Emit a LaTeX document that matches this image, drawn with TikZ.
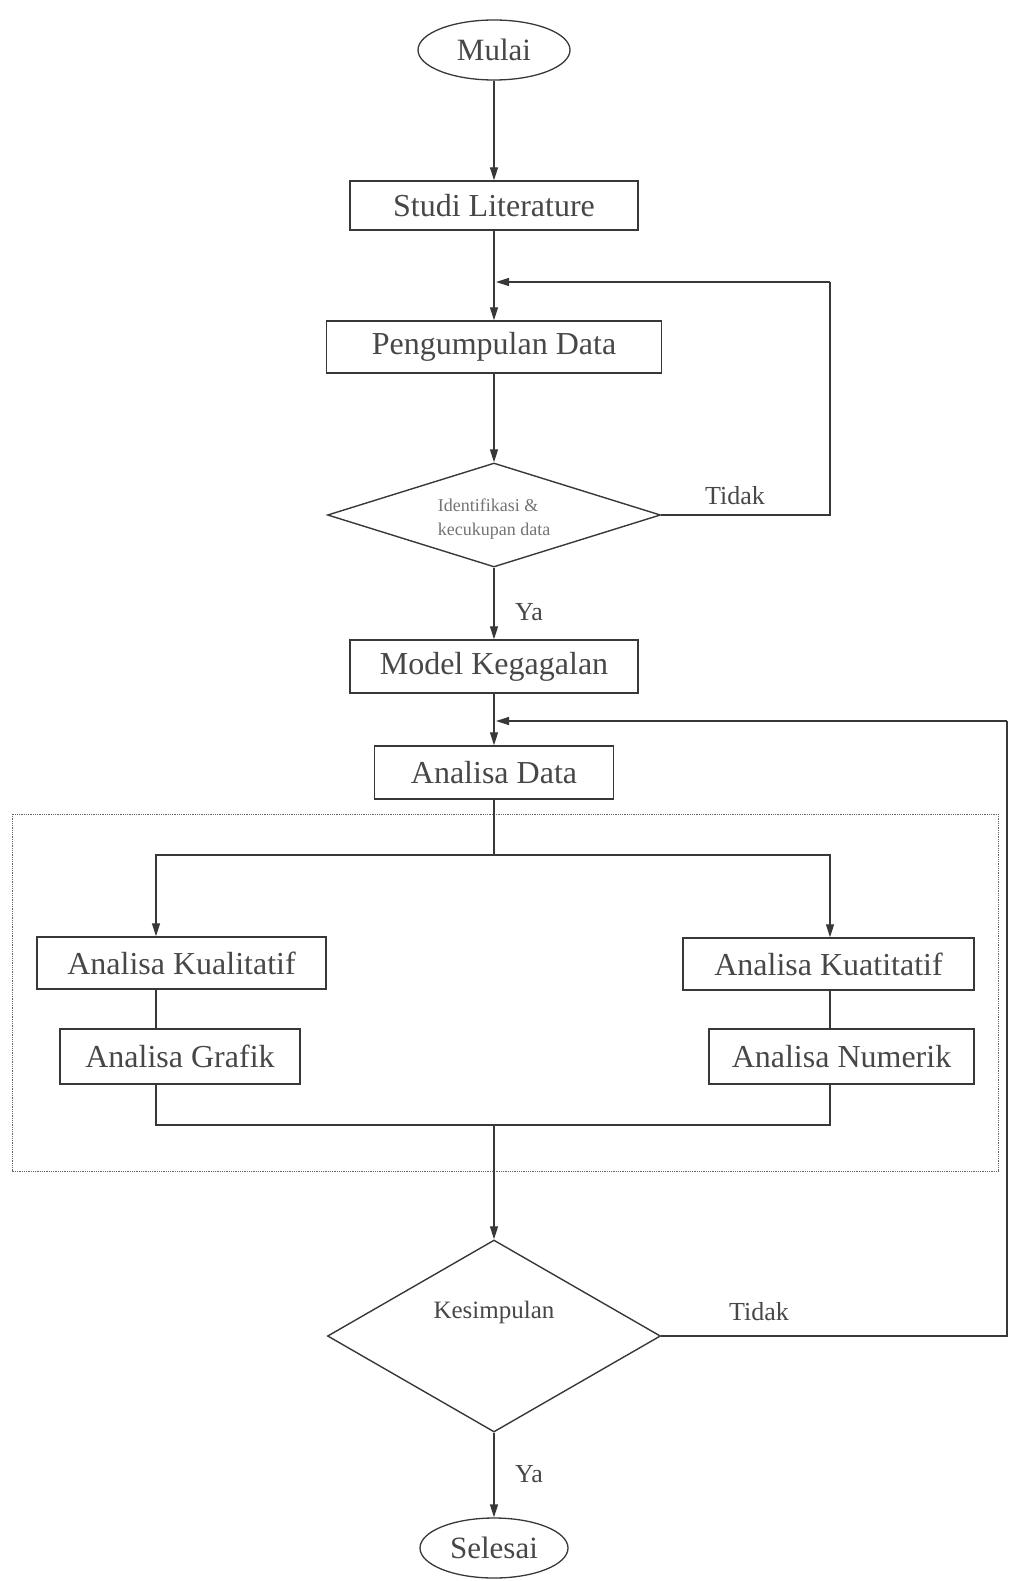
\documentclass[tikz,border=0pt]{standalone}
\usepackage{fontspec}
\setmainfont{Liberation Serif}
\usetikzlibrary{shapes.geometric,arrows.meta}
\begin{document}
\begin{tikzpicture}[x=1pt,y=-1pt,
  line width=1.3pt, color=black!78,
  proc/.style={draw=black!78, line width=1.4pt, rectangle, inner sep=0pt, text=black!72, font=\fontsize{32}{34}\selectfont},
  term/.style={draw=black!78, line width=1.3pt, ellipse, inner sep=0pt, text=black!72, font=\fontsize{31}{33}\selectfont},
  dec/.style={draw=black!78, line width=1.4pt, diamond, inner sep=0pt},
  lbl/.style={text=black!72, inner sep=0pt},
  arr/.style={-{Triangle[length=13pt,width=8pt]}}
]
\useasboundingbox (0,0) rectangle (1010,1581);

% nodes
\node[term, minimum width=152, minimum height=60] (mulai) at (494,50) {Mulai};
\node[proc, minimum width=288, minimum height=49] (studi) at (494,205.5) {Studi Literature};
\node[proc, minimum width=335, minimum height=52] (kumpul) at (494,347) {Pengumpulan Data};
\node[dec, minimum width=333, minimum height=104] (d1) at (494,515) {};
\node[lbl, font=\fontsize{18}{24}\selectfont, align=left, text=black!55] (d1t) at (494,519) {Identifikasi \&\\kecukupan data};
\node[lbl, font=\fontsize{26}{28}\selectfont] (tidak1) at (735,496) {Tidak};
\node[lbl, font=\fontsize{26}{28}\selectfont] (ya1) at (529,612) {Ya};
\node[proc, minimum width=288, minimum height=53] (model) at (494,666.5) {Model Kegagalan};
\node[proc, minimum width=239, minimum height=53] (adata) at (494,772.5) {Analisa Data};

\draw[black!60, line width=0.8pt, densely dotted] (12,814) rectangle (998,1171);

\node[proc, minimum width=289, minimum height=52] (kual) at (181.5,963) {Analisa Kualitatif};
\node[proc, minimum width=291, minimum height=52] (kuan) at (828.5,964) {Analisa Kuatitatif};
\node[proc, minimum width=240, minimum height=55] (grafik) at (180,1056.5) {Analisa Grafik};
\node[proc, minimum width=265, minimum height=55] (numerik) at (841.5,1056.5) {Analisa Numerik};

\node[dec, minimum width=333, minimum height=192] (d2) at (494,1336) {};
\node[lbl, font=\fontsize{25}{27}\selectfont] (d2t) at (494,1312) {Kesimpulan};
\node[lbl, font=\fontsize{26}{28}\selectfont] (tidak2) at (759,1312) {Tidak};
\node[lbl, font=\fontsize{26}{28}\selectfont] (ya2) at (529,1474) {Ya};
\node[term, minimum width=148, minimum height=60] (selesai) at (494,1548) {Selesai};

% helper coordinates
\coordinate (r1) at (830,515);
\coordinate (r1t) at (830,282);
\coordinate (m1) at (494,282);
\coordinate (r2) at (1007,1336);
\coordinate (r2t) at (1007,721);
\coordinate (m2) at (494,721);
\coordinate (br) at (494,855);
\coordinate (bl) at (156,855);
\coordinate (brr) at (830,855);
\coordinate (jn) at (494,1125);
\coordinate (jl) at (156,1125);
\coordinate (jr) at (830,1125);

% connectors
\draw[arr] (mulai) -- (studi);
\draw[arr] (studi) -- (kumpul);
\draw[arr] (kumpul) -- (d1);
\draw (d1.east) -- (r1) -- (r1t);
\draw[arr] (r1t) -- ([xshift=2pt]m1);
\draw[arr] (d1) -- (model);
\draw[arr] (model) -- (adata);
\draw (d2.east) -- (r2) -- (r2t);
\draw[arr] (r2t) -- ([xshift=2pt]m2);
\draw (adata) -- (br);
\draw[arr] (br) -- (bl) -- (kual.north -| bl);
\draw[arr] (br) -- (brr) -- (kuan.north -| brr);
\draw (kual.south -| bl) -- (grafik.north -| bl);
\draw (kuan.south -| brr) -- (numerik.north -| brr);
\draw (grafik.south -| jl) -- (jl) -- (jr) -- (numerik.south -| jr);
\draw[arr] (jn) -- (d2.north);
\draw[arr] (d2.south) -- (selesai);
\end{tikzpicture}
\end{document}
